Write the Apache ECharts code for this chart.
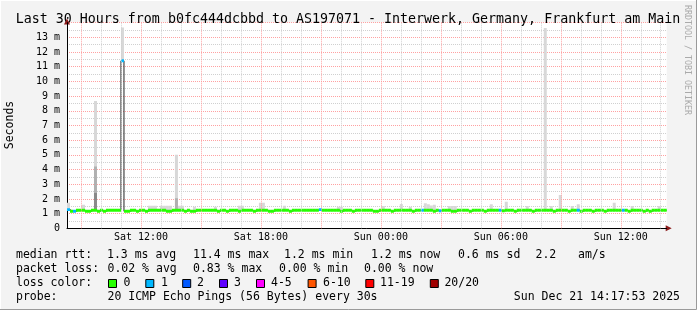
<!DOCTYPE html>
<html><head><meta charset="utf-8">
<script src="https://cdn.jsdelivr.net/npm/echarts@6/dist/echarts.min.js"></script>
<style>html,body{margin:0;padding:0;background:#f3f3f3}#c{width:697px;height:310px}</style>
</head><body><div id="c"></div><script>
// ---------- data ----------
const startHour = 8 + 17/60 + 53/3600;   // Sat 08:17:53 (hours since Sat 00:00)
const spanHours = 30;
const binHours = 0.15;                    // one consolidated step
// median rtt per step (ms)
const median = [
 1.27,1.16,1.16,1.23,1.23,1.23,1.16,1.16,1.23,1.23,1.16,1.23,1.16,1.23,1.23,1.23,1.23,1.23,11.4,1.16,
 1.16,1.23,1.23,1.16,1.23,1.23,1.16,1.23,1.23,1.23,1.23,1.23,1.23,1.16,1.16,1.23,1.23,1.23,1.23,1.16,
 1.23,1.16,1.16,1.23,1.23,1.23,1.23,1.23,1.23,1.23,1.16,1.23,1.23,1.16,1.23,1.23,1.23,1.16,1.23,1.23,
 1.23,1.23,1.16,1.23,1.23,1.23,1.23,1.16,1.16,1.23,1.23,1.23,1.23,1.23,1.16,1.23,1.23,1.23,1.23,1.23,
 1.23,1.23,1.23,1.23,1.27,1.23,1.23,1.23,1.23,1.23,1.23,1.16,1.23,1.23,1.23,1.16,1.23,1.23,1.23,1.23,
 1.23,1.23,1.16,1.16,1.23,1.23,1.23,1.23,1.16,1.23,1.23,1.23,1.23,1.23,1.23,1.16,1.23,1.23,1.23,1.23,
 1.23,1.23,1.16,1.23,1.19,1.23,1.23,1.23,1.16,1.16,1.23,1.23,1.23,1.23,1.16,1.23,1.23,1.23,1.23,1.16,
 1.23,1.23,1.23,1.23,1.23,1.19,1.23,1.23,1.23,1.16,1.23,1.23,1.23,1.23,1.23,1.16,1.23,1.23,1.23,1.23,
 1.23,1.23,1.16,1.23,1.23,1.23,1.23,1.16,1.23,1.23,1.23,1.16,1.23,1.23,1.23,1.16,1.23,1.23,1.23,1.16,
 1.23,1.23,1.23,1.23,1.23,1.23,1.23,1.16,1.23,1.23,1.23,1.23,1.16,1.23,1.16,1.23,1.23,1.23,1.23,1.23
];
// steps whose slowest ping rises visibly above the median (ms)
const smokeBins = [0,5,9,18,27,28,29,31,32,33,34,36,37,38,42,49,57,58,64,65,72,90,91,105,111,114,119,120,121,122,127,128,129,141,146,153,159,161,164,168,170,182,188,197];
const smokeTop  = [1.74,1.6,8.66,13.66,1.54,1.54,1.54,1.54,1.54,1.54,1.54,5.0,1.54,1.54,1.47,1.47,1.54,1.54,1.74,1.74,1.54,1.47,1.47,1.52,1.65,1.47,1.70,1.63,1.55,1.6,1.52,1.52,1.52,1.63,1.81,1.52,13.63,1.52,2.27,1.52,1.63,1.74,1.52,1.52];
// denser smoke inside the big spikes (ms)
const spikeBins = [9, 36];
const spikeMid  = [4.2, 2.04];
const spikeDark = [2.4, 0];
// steps with lost pings (count of 20)
const lossBins   = [0,2,18,84,118,124,144,170,185];
const lossCounts = [1,1,1,1,1,1,1,1,1];
// axis labels
const xLabelHours = [12, 18, 24, 30, 36];
const xLabelTexts = ['Sat 12:00','Sat 18:00','Sun 00:00','Sun 06:00','Sun 12:00'];
const lossLegend = [['0','#26ff00'],['1','#00b8ff'],['2','#0059ff'],['3','#5e00ff'],['4-5','#ff00ff'],['6-10','#ff5500'],['11-19','#ff0000'],['20/20','#a00000']];

// ---------- chart ----------
const FONT = '"DejaVu Sans Mono", monospace';
const endHour = startHour + spanHours;
const lossColor = {0:'#26ff00',1:'#00b8ff',2:'#0059ff',3:'#5e00ff',5:'#ff00ff',10:'#ff5500',19:'#ff0000',20:'#a00000'};
function colorFor(n){ for (const k of [0,1,2,3,5,10,19,20]) if (n<=k) return lossColor[k]; return '#a00000'; }

const rows = median.map((m,i)=>{
  const si = smokeBins.indexOf(i), pi = spikeBins.indexOf(i), li = lossBins.indexOf(i);
  return [startHour+i*binHours, startHour+(i+1)*binHours, m,
          si>=0?smokeTop[si]:m, pi>=0?spikeMid[pi]:0, pi>=0?spikeDark[pi]:0, li>=0?lossCounts[li]:0];
});
const stepLine = rows.map(r=>[r[0], r[2]]);
stepLine.push([endHour, median[median.length-1]]);

const hourLines = [];
for (let h = Math.ceil(startHour); h < endHour; h++) hourLines.push(h);

function rect(api, x0, x1, y0, y1, fill){
  const a = api.coord([x0, y1]), b = api.coord([x1, y0]);
  return {type:'rect', shape:{x:a[0], y:a[1], width:b[0]-a[0], height:b[1]-a[1]}, style:{fill}};
}

const chart = echarts.init(document.getElementById('c'), null, {width:697, height:310});
chart.setOption({
  backgroundColor:'#f3f3f3',
  animation:false,
  grid:{left:67, right:30.3, top:22.6, bottom:81.7, show:true, backgroundColor:'#ffffff', borderWidth:0},
  xAxis:{type:'value', min:startHour, max:endHour,
    axisLine:{show:true, onZero:false, lineStyle:{color:'#000', width:1}},
    axisTick:{show:false}, splitLine:{show:false},
    axisLabel:{customValues:xLabelHours, margin:4, fontFamily:FONT, fontSize:10, color:'#000',
      formatter:v=>{const k=xLabelHours.indexOf(v); return k>=0?xLabelTexts[k]:'';}}},
  yAxis:{type:'value', min:0, max:14, interval:1,
    axisLine:{show:true, lineStyle:{color:'#000', width:1}},
    axisTick:{show:false},
    axisLabel:{margin:7, fontFamily:FONT, fontSize:10, color:'#000',
      formatter:v=> v===0 ? '0' : (v>=14 ? '' : v+' m')},
    splitLine:{show:true, lineStyle:{color:'#ffa1a1', width:1, type:[1,1]}},
    minorTick:{show:false, splitNumber:2},
    minorSplitLine:{show:true, lineStyle:{color:'#d0d0d0', width:1, type:[1,1]}}},
  series:[
    {type:'line', data:[], z:1, silent:true,
     markLine:{silent:true, symbol:'none', label:{show:false}, animation:false,
       data: hourLines.map(h=>({xAxis:h, lineStyle:{color: h%3===0?'#ffa1a1':'#d0d0d0', width:1, type:[1,1]}}))}},
    {type:'custom', z:2, silent:true, clip:true, data:rows,
     renderItem:(p, api)=>{
       const x0=api.value(0), x1=api.value(1), m=api.value(2), top=api.value(3), mid=api.value(4), dark=api.value(5);
       const ch=[];
       if (top>m) ch.push(rect(api,x0,x1,m,top,'#d8d8d8'));
       if (mid>m) ch.push(rect(api,x0,x1,m,mid,'#b0b0b0'));
       if (dark>m) ch.push(rect(api,x0,x1,m,dark,'#8a8a8a'));
       return {type:'group', children:ch};
     }},
    {type:'line', z:3, silent:true, step:'end', symbol:'none', data:stepLine,
     lineStyle:{color:'#202020', width:1}},
    {type:'custom', z:4, silent:true, clip:true, data:rows,
     renderItem:(p, api)=>{
       const x0=api.value(0), x1=api.value(1), m=api.value(2);
       return rect(api,x0,x1,m-0.1,m+0.1,colorFor(api.value(6)));
     }}
  ]
});

// ---------- texts & decorations ----------
const topLeft = chart.convertToPixel({gridIndex:0},[startHour,14]);
const rightEnd = chart.convertToPixel({gridIndex:0},[endHour,0]);
const g = [];
function txt(x,y,s,size,opt){ g.push(Object.assign({type:'text', x, y, silent:true,
  style:Object.assign({text:s, font:size+'px '+FONT, fill:'#000', textVerticalAlign:'middle'}, opt||{})})); }
// frame
g.push({type:'rect', shape:{x:0,y:0,width:697,height:310}, style:{fill:'none', stroke:'#ffffff', lineWidth:2}, silent:true});
g.push({type:'polyline', shape:{points:[[696.5,0],[696.5,309.5],[0,309.5]]}, style:{stroke:'#9a9a9a', lineWidth:1, fill:'none'}, silent:true});
// title
txt(348, 19.3, 'Last 30 Hours from b0fc444dcbbd to AS197071 - Interwerk, Germany, Frankfurt am Main', 13.3, {textAlign:'center'});
// y name
g.push({type:'text', x:10, y:125, rotation:Math.PI/2, silent:true,
  style:{text:'Seconds', font:'11.5px '+FONT, fill:'#000', textAlign:'center', textVerticalAlign:'middle'}});
// watermark
g.push({type:'text', x:687.5, y:60, rotation:-Math.PI/2, silent:true,
  style:{text:'RRDTOOL / TOBI OETIKER', font:'8.3px '+FONT, fill:'#aaaaaa', textAlign:'center', textVerticalAlign:'middle'}});
// arrows
g.push({type:'polygon', silent:true, shape:{points:[[topLeft[0]-3,topLeft[1]+2],[topLeft[0]+3,topLeft[1]+2],[topLeft[0],topLeft[1]-4]]}, style:{fill:'#8b1a1a'}});
g.push({type:'polygon', silent:true, shape:{points:[[rightEnd[0]-1,rightEnd[1]-3],[rightEnd[0]-1,rightEnd[1]+3],[rightEnd[0]+5,rightEnd[1]]]}, style:{fill:'#8b1a1a'}});
// legend rows
const LF = 11.5;
txt(16,255,'median rtt:',LF);
txt(107,255,'1.3 ms avg',LF); txt(193,255,'11.4 ms max',LF); txt(284,255,'1.2 ms min',LF);
txt(371,255,'1.2 ms now',LF); txt(458,255,'0.6 ms sd',LF); txt(535.5,255,'2.2',LF); txt(578,255,'am/s',LF);
txt(16,269,'packet loss:',LF);
txt(107.5,269,'0.02 % avg',LF); txt(193,269,'0.83 % max',LF); txt(279,269,'0.00 % min',LF); txt(364,269,'0.00 % now',LF);
txt(16,283,'loss color:',LF);
const boxX = [108,145.3,182.2,219,256,307.6,365.3,429.8];
const labX = [123.6,161,197,234,271,323,380,444.4];
lossLegend.forEach((e,k)=>{
  g.push({type:'rect', silent:true, shape:{x:boxX[k]+0.5, y:279.5, width:8, height:8}, style:{fill:e[1], stroke:'#000', lineWidth:1}});
  txt(labX[k],283,e[0],LF);
});
txt(16,297,'probe:',LF);
txt(107.5,297,'20 ICMP Echo Pings (56 Bytes) every 30s',LF);
txt(680,297,'Sun Dec 21 14:17:53 2025',LF,{textAlign:'right'});
chart.setOption({graphic:g});
</script></body></html>
